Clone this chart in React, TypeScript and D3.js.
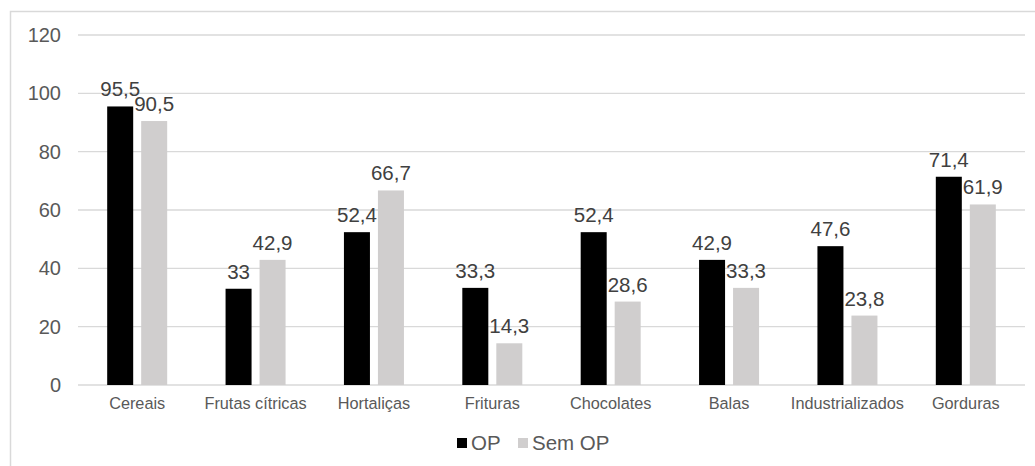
import React from 'react'
import * as d3 from 'd3'

const categories = ['Cereais', 'Frutas cítricas', 'Hortaliças', 'Frituras', 'Chocolates', 'Balas', 'Industrializados', 'Gorduras']
const seriesNames = ['OP', 'Sem OP']
const opValues = [95.5, 33, 52.4, 33.3, 52.4, 42.9, 47.6, 71.4]
const semOpValues = [90.5, 42.9, 66.7, 14.3, 28.6, 33.3, 23.8, 61.9]
const yTicks = [0, 20, 40, 60, 80, 100, 120]

const colors: Record<string, string> = { OP: '#000000', 'Sem OP': '#D0CECE' }
const font = '"Liberation Sans", Arial, sans-serif'

const fmt = (v: number) => String(v).replace('.', ',')

export default function App() {
  const width = 1035
  const height = 466
  const plot = { left: 78, right: 1025, top: 35, bottom: 385 }

  const x0 = d3.scaleBand<string>()
    .domain(categories)
    .range([plot.left, plot.right])
    .padding(0)

  const x1 = d3.scaleBand<string>()
    .domain(seriesNames)
    .range([-30, 30])
    .paddingInner(0.235)
    .paddingOuter(0)

  const y = d3.scaleLinear()
    .domain([0, 120])
    .range([plot.bottom, plot.top])

  const rows = categories.map((c, i) => ({
    category: c,
    values: [
      { series: 'OP', value: opValues[i] },
      { series: 'Sem OP', value: semOpValues[i] }
    ]
  }))

  return (
    <svg width={width} height={height} style={{ position: 'absolute', left: 0, top: 0, fontFamily: font }}>
      <rect x={0} y={0} width={width} height={height} fill="#ffffff" />
      {/* chart frame */}
      <rect x={10.5} y={11.5} width={1040} height={480} fill="none" stroke="#D9D9D9" strokeWidth={1.5} />

      {/* grid */}
      {yTicks.map(t => (
        <g key={t}>
          <line x1={plot.left} x2={plot.right} y1={y(t)} y2={y(t)} stroke="#D9D9D9" strokeWidth={1.3} />
          <text x={61} y={y(t)} dy="0.35em" textAnchor="end" fontSize={20} fill="#595959">{t}</text>
        </g>
      ))}

      {/* bars */}
      {rows.map(r => {
        const cx = (x0(r.category) ?? 0) + x0.bandwidth() / 2
        return (
          <g key={r.category}>
            {r.values.map(v => {
              const bx = cx + (x1(v.series) ?? 0)
              return (
                <g key={v.series}>
                  <rect x={bx} y={y(v.value)} width={x1.bandwidth()} height={y(0) - y(v.value)} fill={colors[v.series]} />
                  <text x={bx + x1.bandwidth() / 2} y={y(v.value) - 10} textAnchor="middle" fontSize={20.5} fill="#404040">
                    {fmt(v.value)}
                  </text>
                </g>
              )
            })}
            <text x={cx} y={409} textAnchor="middle" fontSize={16.3} fill="#595959">{r.category}</text>
          </g>
        )
      })}

      {/* legend */}
      <g>
        <rect x={457} y={438} width={10} height={10} fill={colors.OP} />
        <text x={471} y={443} dy="0.35em" fontSize={20.5} fill="#595959">OP</text>
        <rect x={518} y={438} width={10} height={10} fill={colors['Sem OP']} />
        <text x={532} y={443} dy="0.35em" fontSize={20.5} fill="#595959">Sem OP</text>
      </g>
    </svg>
  )
}
